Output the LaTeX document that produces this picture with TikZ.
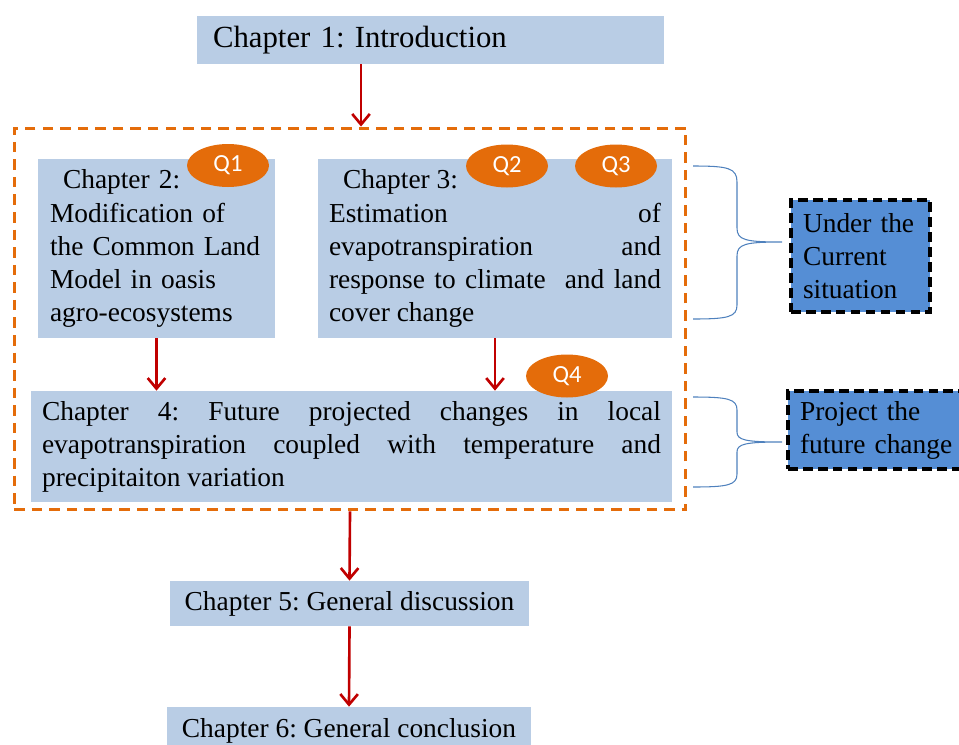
\documentclass[tikz,border=0pt]{standalone}
\usepackage{fontspec}
\setmainfont{Liberation Serif}
\newfontfamily\qfont{Carlito}
\usepackage{tikz}
\usetikzlibrary{shapes.geometric,arrows.meta}
\definecolor{chfill}{RGB}{185,205,229}
\definecolor{sumblue}{RGB}{85,142,213}
\definecolor{qorange}{RGB}{228,108,10}
\definecolor{arrred}{RGB}{192,0,0}
\definecolor{braceblue}{RGB}{79,129,189}
\frenchspacing

\begin{document}
\begin{tikzpicture}[x=0.02cm,y=-0.02cm,
    chbox/.style={fill=chfill,inner ysep=0,font=\fontsize{15.6}{18.8}\selectfont},
    qtag/.style={ellipse,fill=qorange,minimum width=1.64cm,minimum height=0.86cm,inner sep=0,text=white,font=\qfont\fontsize{14}{16}\selectfont},
    sumbox/.style={fill=sumblue,draw=black,line width=2.2pt,dash pattern=on 5.5pt off 3pt,inner xsep=0.24cm,inner ysep=0,align=left,font=\fontsize{15.6}{18.8}\selectfont},
    arr/.style={draw=arrred,line width=1.5pt,-{Straight Barb[length=6pt,width=10pt]}},
    brace/.style={draw=braceblue,line width=0.6pt}]
        \useasboundingbox (0,0) rectangle (959,744);
        \node[draw=qorange,line width=1.7pt,dash pattern=on 6pt off 4pt,minimum width=13.44cm,minimum height=7.64cm,inner sep=0] (frame) at (350,319) {};
        \node[chbox,minimum width=9.34cm,minimum height=0.96cm,text width=8.7cm,inner xsep=0.32cm,align=left,font=\fontsize{17.5}{21}\selectfont] (ch1) at (430.5,40) {Chapter 1: Introduction};
        \node[chbox,minimum width=4.74cm,minimum height=3.58cm,text width=4.26cm,inner xsep=0.24cm,align=left] (ch2) at (156.5,248.5) {\hspace*{0.26cm}Chapter 2:\\Modification of\\the Common Land\\Model in oasis\\agro-ecosystems};
        \node[chbox,minimum width=7.08cm,minimum height=3.58cm,text width=6.64cm,inner xsep=0.22cm,align=justify] (ch3) at (495,248.5) {\hspace*{0.28cm}Chapter 3:\newline Estimation of\linebreak evapotranspiration and\linebreak response to climate\ \ and land\linebreak cover change};
        \node[chbox,minimum width=12.82cm,minimum height=2.22cm,text width=12.38cm,inner xsep=0.22cm,align=justify] (ch4) at (351.5,446.5) {Chapter 4: Future projected changes in local\linebreak evapotranspiration coupled with temperature and\linebreak precipitaiton variation};
        \node[chbox,minimum width=7.18cm,minimum height=0.9cm] (ch5) at (349.5,603.5) {Chapter 5: General discussion};
        \node[chbox,minimum width=7.28cm,minimum height=0.96cm] (ch6) at (349,731) {Chapter 6: General conclusion};
        \node[qtag] (q1) at (228,165.5) {Q1};
        \node[qtag] (q2) at (507,166) {Q2};
        \node[qtag] (q3) at (616,166) {Q3};
        \node[qtag] (q4) at (567,376) {Q4};
        \node[sumbox,minimum width=2.78cm,minimum height=2.24cm,text width=2.3cm] (now) at (860.5,256) {Under the\\Current\\situation};
        \node[sumbox,minimum width=3.56cm,minimum height=1.56cm,text width=3.08cm] (future) at (877,430) {Project the\\future change};
        \draw[arr] ([xshift=-1.39cm]ch1.south) -- ([xshift=-1.39cm]ch1.south |- frame.north);
        \draw[arr] (ch2.south) -- (ch2.south |- ch4.north);
        \draw[arr] (ch3.south) -- (ch3.south |- ch4.north);
        \draw[arr] (frame.south) -- (ch5.north);
        \draw[arr] (ch5.south) -- (ch6.north);
        \draw[brace] (693,166) .. controls (728,166) and (737,168) .. (737,182) -- (737,228) .. controls (737,240) and (745,242) .. (782,242) .. controls (745,242) and (737,244) .. (737,256) -- (737,305) .. controls (737,317) and (728,319) .. (693,319);
        \draw[brace] (693,397) .. controls (728,397) and (737,399) .. (737,410) -- (737,432) .. controls (737,440) and (745,442) .. (782,442) .. controls (745,442) and (737,444) .. (737,452) -- (737,474) .. controls (737,485) and (728,487) .. (693,487);
      \end{tikzpicture}
\end{document}
